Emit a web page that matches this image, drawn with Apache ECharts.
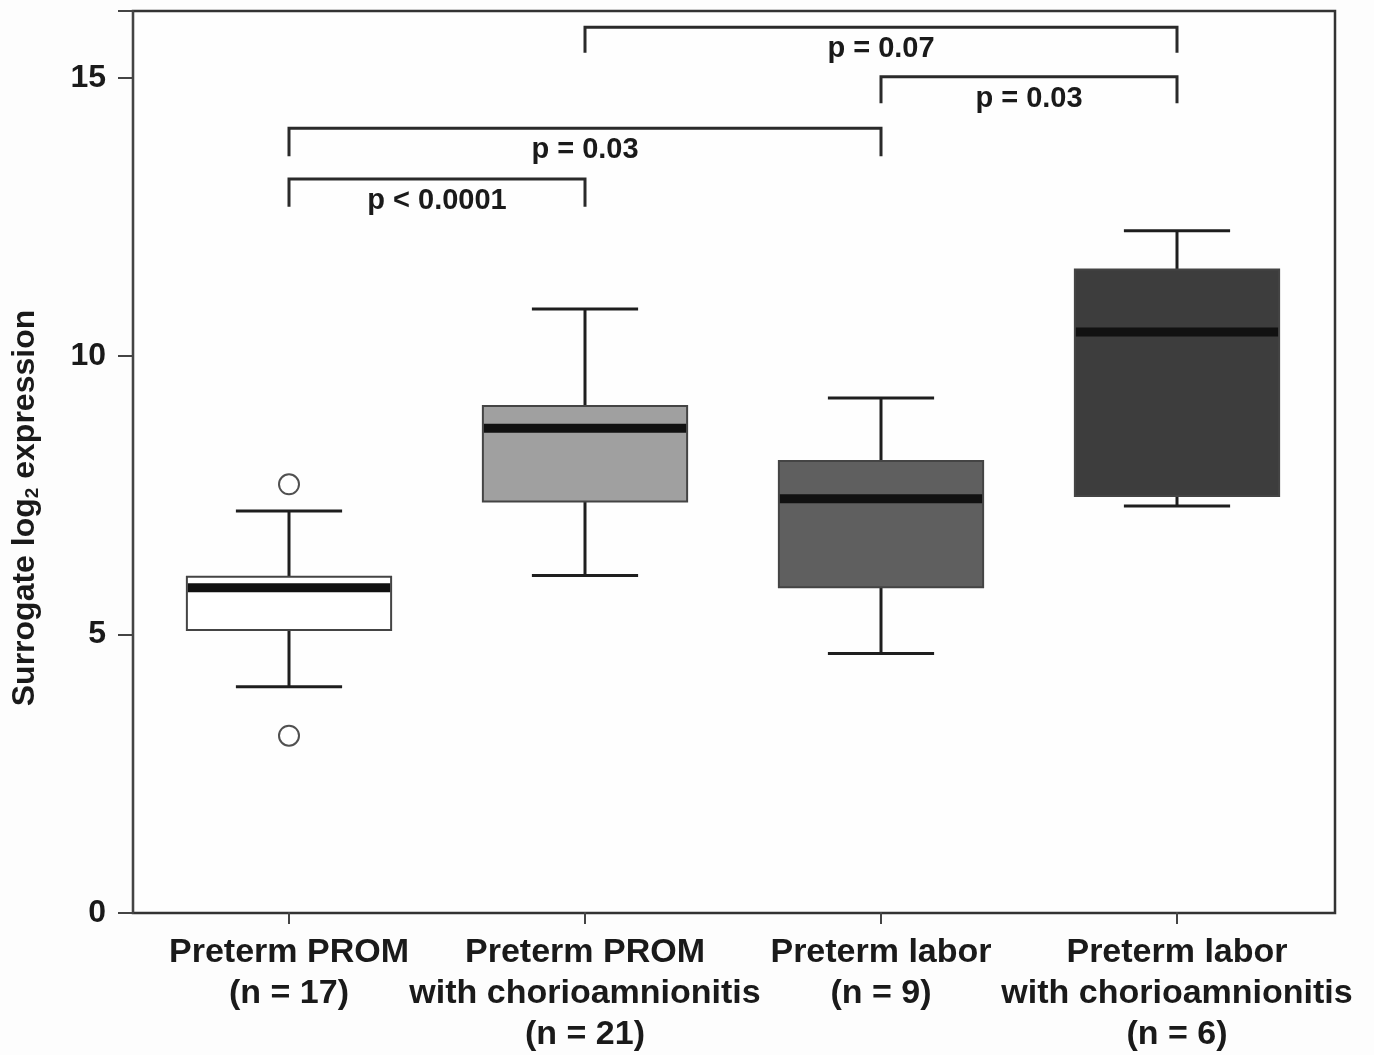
<!DOCTYPE html>
<html>
<head>
<meta charset="utf-8">
<script src="https://cdn.jsdelivr.net/npm/echarts@6/dist/echarts.min.js"></script>
<style>
html,body{margin:0;padding:0;background:#fdfdfd;}
#chart{width:1374px;height:1055px;}
</style>
</head>
<body>
<div id="chart"></div>
<script>
// ---- data ----
const categories = [
  'Preterm PROM\n(n = 17)',
  'Preterm PROM\nwith chorioamnionitis\n(n = 21)',
  'Preterm labor\n(n = 9)',
  'Preterm labor\nwith chorioamnionitis\n(n = 6)'
];
// [lower whisker, Q1, median, Q3, upper whisker]
const boxStats = [
  [4.05, 5.07, 5.83, 6.03, 7.21],
  [6.05, 7.38, 8.70, 9.10, 10.84],
  [4.65, 5.84, 7.43, 8.11, 9.24],
  [7.30, 7.48, 10.43, 11.55, 12.25]
];
// [category index, value]
const outliers = [[0, 7.69], [0, 3.17]];
// significance brackets: [from index, to index, bracket top, leg bottom]
const brackets = [
  [0, 1, 13.18, 12.68],
  [0, 2, 14.09, 13.59],
  [1, 3, 15.91, 15.45],
  [2, 3, 15.02, 14.54]
];
const bracketLabels = ['p < 0.0001', 'p = 0.03', 'p = 0.07', 'p = 0.03'];
const yTicks = [0, 5, 10, 15];
const boxFills = ['#ffffff', '#a0a0a0', '#5f5f5f', '#3d3d3d'];

const FONT = "'Liberation Sans', Arial, sans-serif";
const TXT = '#1a1a1a';
const Y_MAX = 16.2;

const chart = echarts.init(document.getElementById('chart'));

const boxData = boxStats.map((s, i) => [i].concat(s));

chart.setOption({
  backgroundColor: '#fdfdfd',
  animation: false,
  grid: [
    { left: 141, right: 49, top: 11, bottom: 142 },
    { left: 133, right: 39, top: 11, bottom: 142, show: true, borderColor: '#333', borderWidth: 2.5, backgroundColor: '#fefefe', z: 0 }
  ],
  xAxis: [
    {
      type: 'category', gridIndex: 0,
      data: categories,
      axisLine: { show: false },
      axisTick: { show: true, alignWithLabel: true, length: 12, lineStyle: { color: '#444', width: 2 } },
      axisLabel: {
        margin: 20,
        color: TXT, fontFamily: FONT, fontWeight: 'bold', fontSize: 34, lineHeight: 41,
        interval: 0, align: 'center'
      }
    },
    {
      type: 'category', gridIndex: 1, data: categories, show: false
    }
  ],
  yAxis: [
    {
      type: 'value', gridIndex: 0, min: 0, max: Y_MAX, show: false, splitLine: { show: false }
    },
    {
      type: 'value', gridIndex: 1,
      min: 0, max: Y_MAX, interval: 5,
      splitLine: { show: false },
      axisLine: { show: true, lineStyle: { color: '#444', width: 2 } },
      axisTick: { show: true, length: 15, lineStyle: { color: '#444', width: 2 } },
      axisLabel: {
        margin: 27, color: TXT, fontFamily: FONT, fontWeight: 'bold', fontSize: 32,
        formatter: v => yTicks.indexOf(v) >= 0 ? String(v) : ''
      },
      name: '{a|Surrogate log}{s|2}{a| expression}',
      nameLocation: 'middle',
      nameGap: 91,
      nameRotate: 90,
      nameTextStyle: {
        padding: [0, 92, 0, 0],
        rich: {
          a: { fontFamily: FONT, fontWeight: 'bold', fontSize: 32, color: TXT },
          s: { fontFamily: FONT, fontWeight: 'bold', fontSize: 19, color: TXT, padding: [15, 0, 0, 0] }
        }
      }
    }
  ],
  series: [
    {
      type: 'custom',
      xAxisIndex: 0, yAxisIndex: 0,
      data: boxData,
      encode: { x: 0, y: [1, 2, 3, 4, 5] },
      renderItem: function (params, api) {
        const i = api.value(0);
        const pLow = api.coord([i, api.value(1)]);
        const pQ1 = api.coord([i, api.value(2)]);
        const pMed = api.coord([i, api.value(3)]);
        const pQ3 = api.coord([i, api.value(4)]);
        const pHigh = api.coord([i, api.value(5)]);
        const band = api.size([1, 0])[0];
        const bw = band * 0.69;
        const cw = bw * 0.52;
        const cx = pMed[0];
        const wStyle = { stroke: '#1e1e1e', lineWidth: 3 };
        return {
          type: 'group',
          children: [
            { type: 'line', shape: { x1: cx, y1: pHigh[1], x2: cx, y2: pQ3[1] }, style: wStyle },
            { type: 'line', shape: { x1: cx, y1: pQ1[1], x2: cx, y2: pLow[1] }, style: wStyle },
            { type: 'line', shape: { x1: cx - cw / 2, y1: pHigh[1], x2: cx + cw / 2, y2: pHigh[1] }, style: wStyle },
            { type: 'line', shape: { x1: cx - cw / 2, y1: pLow[1], x2: cx + cw / 2, y2: pLow[1] }, style: wStyle },
            {
              type: 'rect',
              shape: { x: cx - bw / 2, y: pQ3[1], width: bw, height: pQ1[1] - pQ3[1] },
              style: { fill: boxFills[i], stroke: '#444', lineWidth: 2 }
            },
            {
              type: 'line',
              shape: { x1: cx - bw / 2 + 1, y1: pMed[1], x2: cx + bw / 2 - 1, y2: pMed[1] },
              style: { stroke: '#111', lineWidth: 9 }
            }
          ]
        };
      },
      z: 2
    },
    {
      type: 'scatter',
      xAxisIndex: 0, yAxisIndex: 0,
      data: outliers,
      symbol: 'circle',
      symbolSize: 20,
      itemStyle: { color: '#ffffff', borderColor: '#505050', borderWidth: 2, opacity: 1 },
      z: 3
    },
    {
      type: 'custom',
      xAxisIndex: 0, yAxisIndex: 0,
      data: brackets,
      encode: { x: [0, 1], y: [2, 3] },
      renderItem: function (params, api) {
        const a = api.value(0), b = api.value(1);
        const top = api.value(2), leg = api.value(3);
        const p1 = api.coord([a, leg]);
        const p2 = api.coord([a, top]);
        const p3 = api.coord([b, top]);
        const p4 = api.coord([b, leg]);
        return {
          type: 'group',
          children: [
            {
              type: 'polyline',
              shape: { points: [p1, p2, p3, p4] },
              style: { stroke: '#2a2a2a', lineWidth: 3, fill: null }
            },
            {
              type: 'text',
              x: (p2[0] + p3[0]) / 2,
              y: p2[1] + 22,
              style: {
                text: bracketLabels[params.dataIndex],
                font: 'bold 29px ' + FONT,
                fill: TXT,
                align: 'center',
                verticalAlign: 'middle'
              }
            }
          ]
        };
      },
      z: 4
    }
  ]
});
</script>
</body>
</html>
